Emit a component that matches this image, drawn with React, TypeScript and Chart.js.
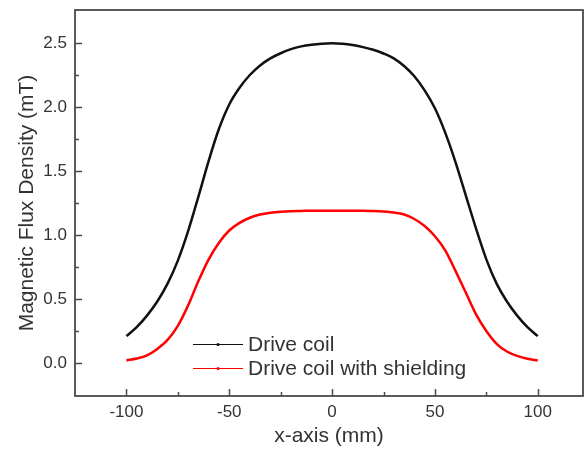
import React, { useEffect, useRef } from "react";
import { Chart, registerables } from "chart.js";

Chart.register(...registerables);

const xPositions = [
  -100, -95, -90, -85, -80, -75, -70, -65, -60, -55, -50, -45, -40, -35, -30, -25, -20, -15, -10, -5,
  0, 5, 10, 15, 20, 25, 30, 35, 40, 45, 50, 55, 60, 65, 70, 75, 80, 85, 90, 95, 100,
];
const driveCoil = [
  0.21, 0.28, 0.37, 0.48, 0.62, 0.8, 1.03, 1.3, 1.58, 1.83, 2.02, 2.15, 2.25, 2.325, 2.38, 2.42, 2.452, 2.474, 2.487, 2.495,
  2.498, 2.495, 2.485, 2.468, 2.447, 2.418, 2.38, 2.32, 2.24, 2.13, 1.99, 1.8, 1.57, 1.31, 1.05, 0.81, 0.62, 0.48, 0.37, 0.28, 0.21,
];
const driveCoilShielding = [
  0.02, 0.035, 0.06, 0.11, 0.18, 0.29, 0.45, 0.64, 0.81, 0.94, 1.035, 1.095, 1.135, 1.16, 1.174, 1.182, 1.186, 1.188, 1.19, 1.19,
  1.19, 1.19, 1.19, 1.189, 1.187, 1.183, 1.175, 1.16, 1.125, 1.07, 0.99, 0.88, 0.72, 0.55, 0.38, 0.25, 0.15, 0.09, 0.055, 0.033, 0.02,
];
const seriesLabels = ["Drive coil", "Drive coil with shielding"];
const xTicks = [-100, -50, 0, 50, 100];
const xMinorTicks = [-75, -25, 25, 75];
const yTicks = [0, 0.5, 1, 1.5, 2, 2.5];
const yMinorTicks = [0.25, 0.75, 1.25, 1.75, 2.25];
const xTitle = "x-axis (mm)";
const yTitle = "Magnetic Flux Density (mT)";

const FONT = "'Liberation Sans', Arial, sans-serif";
const TEXT = "#333333";
const AXIS = "#4a4a4a";

const frameAndTicks = {
  id: "frameAndTicks",
  afterDatasetsDraw(chart: any) {
    const { ctx, chartArea } = chart;
    const xs = chart.scales.x;
    const ys = chart.scales.y;
    ctx.save();
    ctx.strokeStyle = AXIS;
    ctx.lineWidth = 1.8;
    ctx.strokeRect(chartArea.left, chartArea.top, chartArea.right - chartArea.left, chartArea.bottom - chartArea.top);
    ctx.lineWidth = 1.5;
    const tick = (v: number, len: number, horiz: boolean) => {
      ctx.beginPath();
      if (horiz) {
        const p = Math.round(xs.getPixelForValue(v)) + 0.5;
        ctx.moveTo(p, chartArea.bottom);
        ctx.lineTo(p, chartArea.bottom - len);
      } else {
        const p = Math.round(ys.getPixelForValue(v)) + 0.5;
        ctx.moveTo(chartArea.left, p);
        ctx.lineTo(chartArea.left + len, p);
      }
      ctx.stroke();
    };
    xTicks.forEach((v) => tick(v, 7, true));
    xMinorTicks.forEach((v) => tick(v, 4, true));
    yTicks.forEach((v) => tick(v, 7, false));
    yMinorTicks.forEach((v) => tick(v, 4, false));
    ctx.restore();
  },
};

const insideLegend = {
  id: "insideLegend",
  afterDraw(chart: any) {
    const { ctx } = chart;
    const x0 = 193;
    const x1 = 243;
    const rows = [344, 368];
    ctx.save();
    chart.data.datasets.forEach((ds: any, i: number) => {
      const y = rows[i];
      ctx.strokeStyle = ds.borderColor;
      ctx.lineWidth = 1;
      ctx.beginPath();
      ctx.moveTo(x0, y + 0.5);
      ctx.lineTo(x1, y + 0.5);
      ctx.stroke();
      ctx.fillStyle = ds.borderColor;
      ctx.beginPath();
      ctx.arc((x0 + x1) / 2, y + 0.5, 1.6, 0, Math.PI * 2);
      ctx.fill();
      ctx.fillStyle = TEXT;
      ctx.font = `21px ${FONT}`;
      ctx.textBaseline = "middle";
      ctx.textAlign = "left";
      ctx.fillText(ds.label, 248, y + 1);
    });
    ctx.restore();
  },
};

export default function App() {
  const canvasRef = useRef<HTMLCanvasElement | null>(null);

  useEffect(() => {
    const canvas = canvasRef.current;
    if (!canvas) return;
    const chart = new Chart(canvas, {
      type: "line",
      data: {
        datasets: [
          {
            label: seriesLabels[0],
            data: xPositions.map((x, i) => ({ x, y: driveCoil[i] })),
            borderColor: "#111111",
            borderWidth: 2.5,
            pointRadius: 0,
            cubicInterpolationMode: "monotone",
            fill: false,
          },
          {
            label: seriesLabels[1],
            data: xPositions.map((x, i) => ({ x, y: driveCoilShielding[i] })),
            borderColor: "#ff0000",
            borderWidth: 2.5,
            pointRadius: 0,
            cubicInterpolationMode: "monotone",
            fill: false,
          },
        ],
      },
      options: {
        animation: false,
        responsive: false,
        maintainAspectRatio: false,
        layout: { padding: { top: 10, right: 4, left: 0, bottom: 0 } },
        plugins: { legend: { display: false }, tooltip: { enabled: false } },
        scales: {
          x: {
            type: "linear",
            min: -125,
            max: 122,
            afterFit: (s: any) => {
              s.height = 54;
              s.paddingLeft = 0;
              s.paddingRight = 0;
            },
            afterBuildTicks: (s: any) => {
              s.ticks = xTicks.map((v) => ({ value: v }));
            },
            grid: { display: false, drawTicks: false },
            border: { display: false },
            ticks: {
              padding: 6,
              color: TEXT,
              font: { family: FONT, size: 17 },
              maxRotation: 0,
              callback: (v: any) => String(v),
            },
            title: {
              display: true,
              text: xTitle,
              color: TEXT,
              font: { family: FONT, size: 21 },
              padding: { top: 0, bottom: 1 },
            },
          },
          y: {
            type: "linear",
            min: -0.258,
            max: 2.758,
            afterFit: (s: any) => {
              s.width = 75;
              s.paddingTop = 0;
              s.paddingBottom = 0;
            },
            afterBuildTicks: (s: any) => {
              s.ticks = yTicks.map((v) => ({ value: v }));
            },
            grid: { display: false, drawTicks: false },
            border: { display: false },
            ticks: {
              padding: 8,
              color: TEXT,
              font: { family: FONT, size: 17 },
              callback: (v: any) => Number(v).toFixed(1),
            },
            title: {
              display: true,
              text: yTitle,
              color: TEXT,
              font: { family: FONT, size: 21 },
              padding: { top: 15, bottom: 0 },
            },
          },
        },
      },
      plugins: [frameAndTicks, insideLegend],
    } as any);
    return () => chart.destroy();
  }, []);

  return (
    <div style={{ position: "fixed", left: 0, top: 0, width: 587, height: 450, background: "#ffffff" }}>
      <canvas ref={canvasRef} width={587} height={450} style={{ width: 587, height: 450 }} />
    </div>
  );
}
